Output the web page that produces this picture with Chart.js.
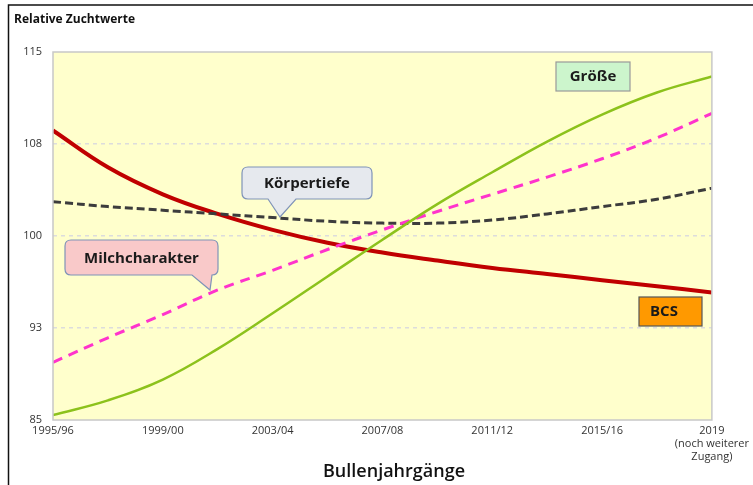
<!DOCTYPE html>
<html>
<head>
<meta charset="utf-8">
<script src="https://cdn.jsdelivr.net/npm/chart.js@4.4.0/dist/chart.umd.min.js"></script>
<style>
  html, body { margin: 0; padding: 0; background: #ffffff; }
  #wrap { position: relative; width: 753px; height: 485px; }
</style>
</head>
<body>
<div id="wrap"><canvas id="zuchtwerte" width="753" height="485"></canvas></div>
<script>
// Achsenbeschriftungen
const jahrgaenge = ['1995/96', '1999/00', '2003/04', '2007/08', '2011/12', '2015/16', ['2019', '(noch weiterer', 'Zugang)']];
// Stützstellen auf der x-Achse (0 = 1995/96, 6 = 2019)
const stuetzstellen = [0, 0.5, 1, 1.5, 2, 2.5, 3, 3.5, 4, 4.5, 5, 5.5, 6];

const groesse        = [85.4, 86.6, 88.3, 90.8, 93.7, 96.7, 99.7, 102.6, 105.2, 107.7, 109.9, 111.7, 113.0];
const bcs            = [108.6, 105.6, 103.4, 101.8, 100.5, 99.45, 98.65, 98.0, 97.4, 96.9, 96.4, 95.9, 95.4];
const milchcharakter = [89.7, 91.7, 93.6, 95.6, 97.2, 98.9, 100.5, 102.0, 103.4, 104.8, 106.3, 108.0, 110.0];
const koerpertiefe   = [102.8, 102.4, 102.1, 101.8, 101.5, 101.2, 101.05, 101.05, 101.3, 101.8, 102.4, 103.0, 103.9];

function toPoints(values) {
  return values.map((v, i) => ({ x: stuetzstellen[i], y: v }));
}

// Sprechblase mit Spitze nach unten
function callout(ctx, x, y, w, h, tipX, tipY, baseL, baseR, fill, stroke, text) {
  const r = 6;
  ctx.save();
  ctx.beginPath();
  ctx.moveTo(x + r, y);
  ctx.lineTo(x + w - r, y);
  ctx.quadraticCurveTo(x + w, y, x + w, y + r);
  ctx.lineTo(x + w, y + h - r);
  ctx.quadraticCurveTo(x + w, y + h, x + w - r, y + h);
  ctx.lineTo(baseR, y + h);
  ctx.lineTo(tipX, tipY);
  ctx.lineTo(baseL, y + h);
  ctx.lineTo(x + r, y + h);
  ctx.quadraticCurveTo(x, y + h, x, y + h - r);
  ctx.lineTo(x, y + r);
  ctx.quadraticCurveTo(x, y, x + r, y);
  ctx.closePath();
  ctx.fillStyle = fill;
  ctx.fill();
  ctx.strokeStyle = stroke;
  ctx.lineWidth = 1.2;
  ctx.stroke();
  ctx.fillStyle = '#1a1a1a';
  ctx.font = 'bold 15px "Open Sans", sans-serif';
  ctx.textAlign = 'center';
  ctx.textBaseline = 'middle';
  ctx.fillText(text, x + w / 2, y + h / 2 + 1);
  ctx.restore();
}

const decorPlugin = {
  id: 'decor',
  beforeDraw(chart) {
    const { ctx, chartArea: a } = chart;
    ctx.save();
    ctx.fillStyle = '#ffffcc';
    ctx.fillRect(a.left, a.top, a.right - a.left, a.bottom - a.top);
    // Rahmen der Grafik
    ctx.strokeStyle = '#111';
    ctx.lineWidth = 1.5;
    ctx.beginPath();
    ctx.moveTo(8.5, 485);
    ctx.lineTo(8.5, 5);
    ctx.lineTo(753, 5);
    ctx.stroke();
    ctx.restore();
  },
  afterDatasetsDraw(chart) {
    const { ctx, chartArea: a } = chart;
    ctx.save();
    ctx.strokeStyle = '#c8c8c8';
    ctx.lineWidth = 1.5;
    ctx.strokeRect(a.left, a.top, a.right - a.left, a.bottom - a.top);

    ctx.fillStyle = '#111';
    ctx.font = 'bold 12px "Open Sans", sans-serif';
    ctx.textAlign = 'left';
    ctx.textBaseline = 'middle';
    ctx.fillText('Relative Zuchtwerte', 14, 20);

    ctx.font = '600 18px "Open Sans", sans-serif';
    ctx.textAlign = 'center';
    ctx.fillText('Bullenjahrgänge', 394, 472);

    // Größe
    ctx.fillStyle = '#ccf5cc';
    ctx.strokeStyle = '#999';
    ctx.lineWidth = 1.2;
    ctx.fillRect(556, 62, 74, 29);
    ctx.strokeRect(556, 62, 74, 29);
    ctx.fillStyle = '#1a1a1a';
    ctx.font = 'bold 15px "Open Sans", sans-serif';
    ctx.fillText('Größe', 593, 77);

    // BCS
    ctx.fillStyle = '#ff9900';
    ctx.strokeStyle = '#555';
    ctx.fillRect(639, 297, 63, 29);
    ctx.strokeRect(639, 297, 63, 29);
    ctx.fillStyle = '#1a1a1a';
    ctx.textAlign = 'left';
    ctx.fillText('BCS', 650, 312);
    ctx.restore();

    callout(ctx, 242, 167, 130, 32, 280, 217, 268, 296, '#e6e9ee', '#7f93b8', 'Körpertiefe');
    callout(ctx, 65, 240, 153, 35, 210, 290, 192, 212, '#f9c9c9', '#7f93b8', 'Milchcharakter');
  }
};

const ctx = document.getElementById('zuchtwerte');
new Chart(ctx, {
  type: 'line',
  data: {
    datasets: [
      {
        label: 'Größe',
        data: toPoints(groesse),
        borderColor: '#8cc21c',
        borderWidth: 2.5,
      },
      {
        label: 'Milchcharakter',
        data: toPoints(milchcharakter),
        borderColor: '#ff33cc',
        borderWidth: 3,
        borderDash: [10, 7],
      },
      {
        label: 'Körpertiefe',
        data: toPoints(koerpertiefe),
        borderColor: '#3c3c3c',
        borderWidth: 3,
        borderDash: [8, 4],
      },
      {
        label: 'BCS',
        data: toPoints(bcs),
        borderColor: '#c00000',
        borderWidth: 4,
      },
    ],
  },
  options: {
    responsive: false,
    animation: false,
    layout: { padding: { left: 0, right: 41, top: 52, bottom: 0 } },
    elements: {
      point: { radius: 0 },
      line: { tension: 0.4, fill: false, borderCapStyle: 'butt' },
    },
    plugins: {
      legend: { display: false },
      tooltip: { enabled: false },
    },
    scales: {
      x: {
        type: 'linear',
        min: 0,
        max: 6,
        afterFit: (s) => { s.height = 65; },
        grid: { display: false, drawTicks: false },
        border: { display: false },
        ticks: {
          stepSize: 1,
          padding: 4,
          maxRotation: 0,
          autoSkip: false,
          color: '#333',
          font: { size: 11, family: '"Open Sans", sans-serif' },
          callback: (v) => jahrgaenge[v],
        },
      },
      y: {
        min: 85,
        max: 115,
        afterFit: (s) => { s.width = 53; },
        grid: {
          drawTicks: false,
          lineWidth: 1.5,
          color: (c) => (c.tick.value === 85 || c.tick.value === 115) ? 'rgba(0,0,0,0)' : '#dcdcdc',
        },
        border: { display: false, dash: [4, 4] },
        ticks: {
          stepSize: 7.5,
          padding: 11,
          color: '#333',
          font: { size: 11, family: '"Open Sans", sans-serif' },
          callback: (v) => Math.round(v),
        },
      },
    },
  },
  plugins: [decorPlugin],
});
</script>
</body>
</html>
